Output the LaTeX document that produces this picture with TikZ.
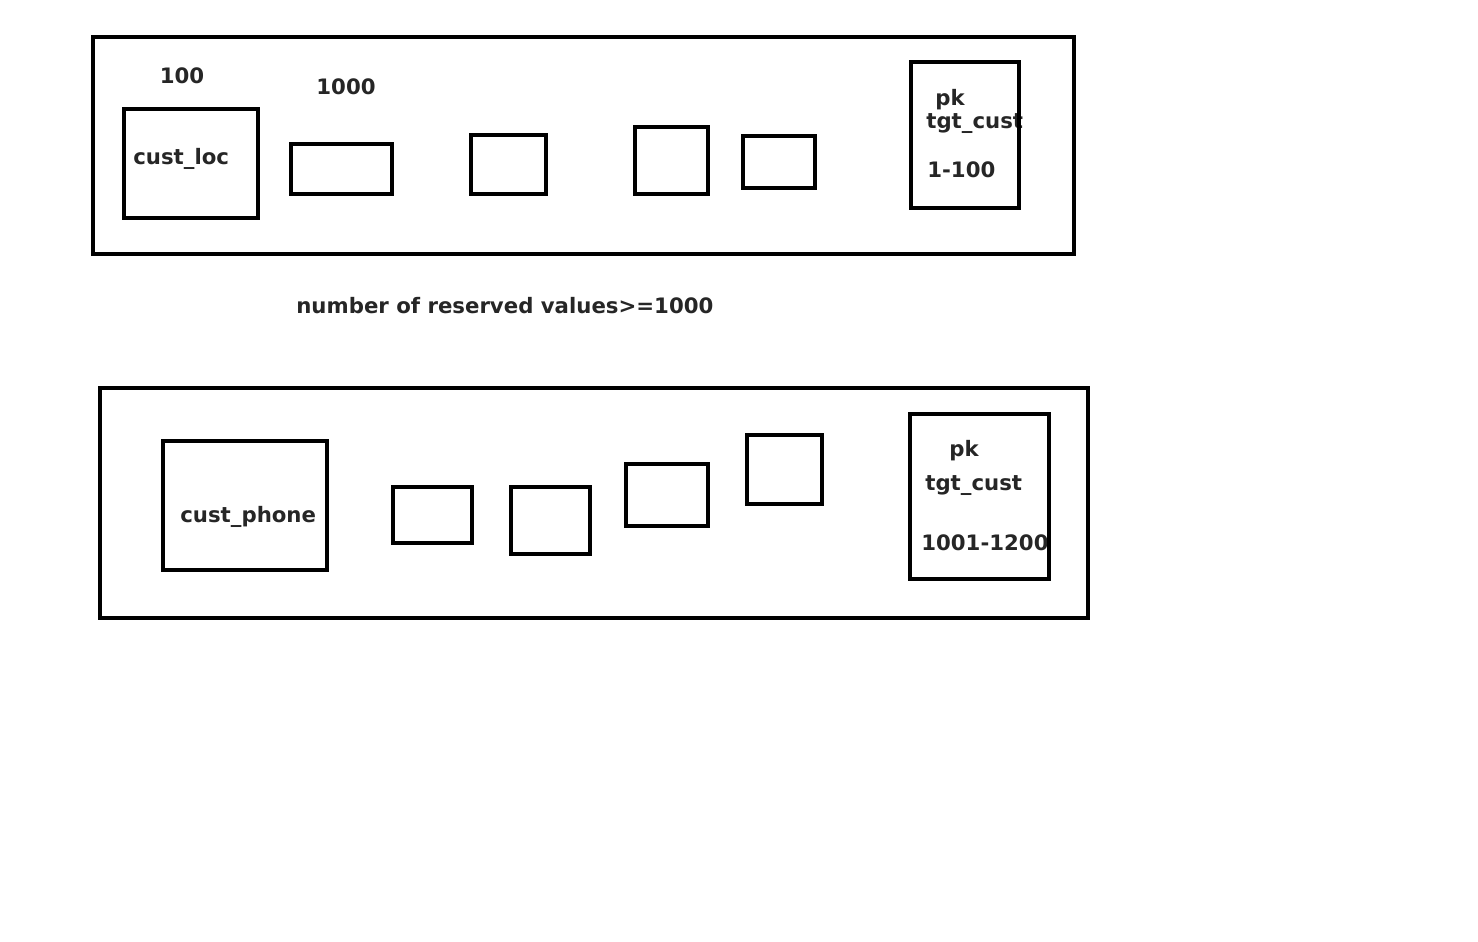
\documentclass[tikz,border=0pt]{standalone}
\usepackage{fontspec}
\setmainfont{DejaVu Sans}
\usetikzlibrary{positioning}

\begin{document}
\begin{tikzpicture}[x=0.02cm,y=-0.02cm,
  bx/.style={line width=2.7pt},
  lbl/.style={font=\bfseries\fontsize{12.1}{14}\selectfont,text=black!85,inner sep=0pt}]
\useasboundingbox (0,0) rectangle (1478,941);

%cust_loc
\node[lbl] (num100) at (182,76) {100};
\node[lbl] (num1000) at (346,87) {1000};
\node[lbl,anchor=west] (custloc) at (133,159) {cust\_loc};
\node[lbl,anchor=west] (pktop) at (935,100) {pk};
\node[lbl,anchor=west] (tgttop) at (926,124) {tgt\_cust};
\node[lbl,anchor=west] (rngtop) at (927,170) {1-100};
% boxes
\draw[bx] (93,37) rectangle (1074,254);
\draw[bx] (124,109) rectangle (258,218);
\draw[bx] (291,144) rectangle (392,194);
\draw[bx] (471,135) rectangle (546,194);
\draw[bx] (635,127) rectangle (708,194);
\draw[bx] (743,136) rectangle (815,188);
\draw[bx] (911,62) rectangle (1019,208);

\node[lbl,anchor=west] (reserved) at (296,306) {number of reserved values>=1000};

%cust_phone
\node[lbl,anchor=west] (custphone) at (180,517) {cust\_phone};
\node[lbl,anchor=west] (pkbot) at (949,451) {pk};
\node[lbl,anchor=west] (tgtbot) at (925,486) {tgt\_cust};
\node[lbl,anchor=west] (rngbot) at (921,543) {1001-1200};
% boxes
\draw[bx] (100,388) rectangle (1088,618);
\draw[bx] (163,441) rectangle (327,570);
\draw[bx] (393,487) rectangle (472,543);
\draw[bx] (511,487) rectangle (590,554);
\draw[bx] (626,464) rectangle (708,526);
\draw[bx] (747,435) rectangle (822,504);
\draw[bx] (910,414) rectangle (1049,579);

\end{tikzpicture}
\end{document}
